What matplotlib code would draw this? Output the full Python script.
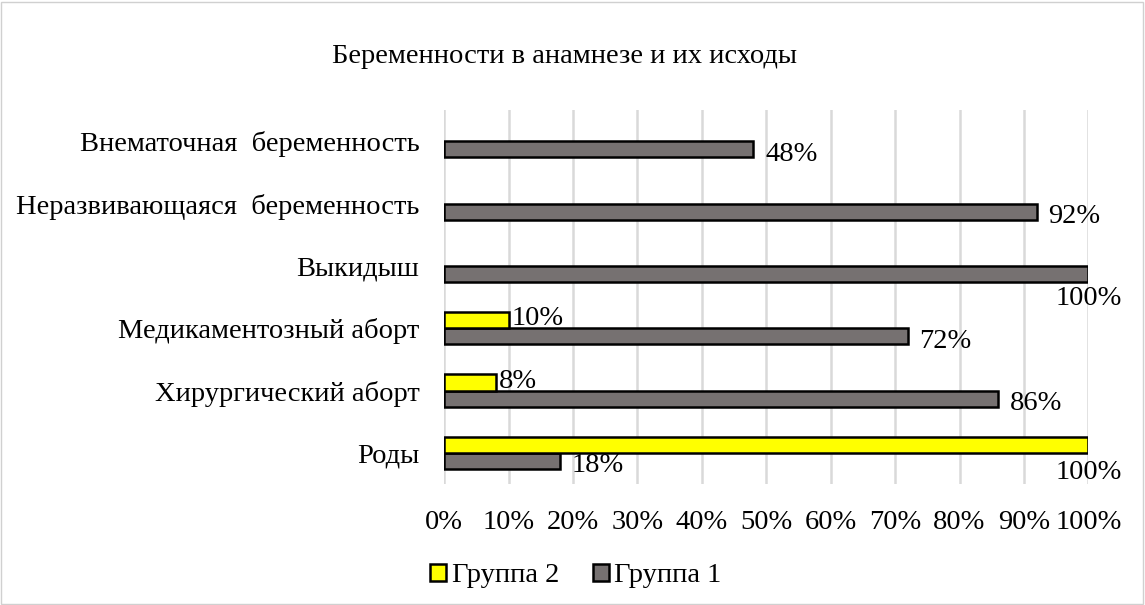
import numpy as np
import matplotlib.pyplot as plt
from matplotlib.patches import Rectangle

plt.rcParams['font.family'] = ['Liberation Serif', 'DejaVu Serif']

categories = ['Роды', 'Хирургический аборт', 'Медикаментозный аборт', 'Выкидыш',
              'Неразвивающаяся  беременность', 'Внематочная  беременность']
group1 = [18, 86, 72, 100, 92, 48]
group2 = [100, 8, 10, 0, 0, 0]
ticks = [0, 10, 20, 30, 40, 50, 60, 70, 80, 90, 100]

c1 = '#767171'
c2 = '#ffff00'
fs = 20.5

fig = plt.figure(figsize=(11.45, 6.05), dpi=100)
fig.patches.append(Rectangle((0.001, 0.002), 0.997, 0.995, transform=fig.transFigure,
                             fill=False, edgecolor='#d0d0d0', linewidth=1))
ax = fig.add_axes([0.388, 0.2, 0.5625, 0.618])

y = np.arange(len(categories))
h = 0.26
ax.barh(y - h / 2, group1, height=h, color=c1, edgecolor='black', linewidth=1.8, label='Группа 1', zorder=3)
g2 = [v if v > 0 else np.nan for v in group2]
ax.barh(y + h / 2, g2, height=h, color=c2, edgecolor='black', linewidth=1.8, label='Группа 2', zorder=3)

for yi, v in zip(y, group1):
    if v >= 100:
        ax.text(v, yi - h / 2 - 0.39, f'{v}%', ha='center', va='center', fontsize=fs)
    else:
        ax.text(v + 1.8, yi - h / 2 - 0.08, f'{v}%', ha='left', va='center', fontsize=fs)
for yi, v in zip(y, group2):
    if v <= 0:
        continue
    if v >= 100:
        # no room on the right, so it drops below the bar
        ax.text(v, yi + h / 2 - 0.44, f'{v}%', ha='center', va='center', fontsize=fs)
    else:
        ax.text(v + 0.5, yi + h / 2 + 0.02, f'{v}%', ha='left', va='center', fontsize=fs)

ax.set_xlim(0, 100)
ax.set_ylim(-0.5, len(categories) - 0.5)
ax.set_xticks(ticks)
ax.set_xticklabels([f'{t}%' for t in ticks], fontsize=fs)
ax.set_yticks(y)
ax.set_yticklabels(categories, fontsize=fs)
ax.tick_params(length=0)
ax.tick_params(axis='y', pad=18)
ax.tick_params(axis='x', pad=19)
ax.grid(axis='x', color='#d9d9d9', linewidth=1.8, zorder=0)
for s in ax.spines.values():
    s.set_visible(False)

fig.text(0.493, 0.907, 'Беременности в анамнезе и их исходы', ha='center', va='center', fontsize=fs)

handles, labels = ax.get_legend_handles_labels()
fig.legend(handles[::-1], labels[::-1], loc='center', bbox_to_anchor=(0.503, 0.048), ncol=2,
           frameon=False, fontsize=fs, handlelength=0.55, handleheight=0.55, handletextpad=0.2,
           columnspacing=1.2)

fig.savefig('out.png', dpi=100)
